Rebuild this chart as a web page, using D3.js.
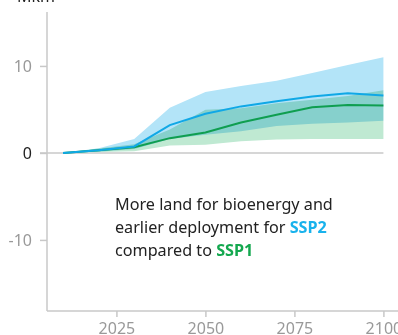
<!DOCTYPE html>
<html><head><meta charset="utf-8">
<script src="https://cdn.jsdelivr.net/npm/d3@7"></script>
<style>
html,body{margin:0;padding:0;background:#fff;}
svg{display:block;}
text{font-family:"Noto Sans","Open Sans",sans-serif;}
</style></head>
<body>
<svg id="chart" width="398" height="335"></svg>
<script>
const years = [2010, 2020, 2030, 2040, 2050, 2060, 2070, 2080, 2090, 2100];
const ssp2Median = [0, 0.3, 0.75, 3.2, 4.5, 5.35, 5.95, 6.5, 6.85, 6.6];
const ssp2Low    = [0, 0.15, 0.45, 1.6, 2.1, 2.5, 3.1, 3.35, 3.5, 3.7];
const ssp2High   = [0, 0.55, 1.6, 5.2, 7.0, 7.7, 8.3, 9.2, 10.1, 11.0];
const ssp1Median = [0, 0.3, 0.65, 1.7, 2.35, 3.5, 4.4, 5.25, 5.5, 5.45];
const ssp1Low    = [0, 0.1, 0.2, 0.85, 0.95, 1.35, 1.55, 1.6, 1.6, 1.6];
const ssp1High   = [0, 0.5, 1.0, 2.7, 4.95, 5.15, 5.7, 6.1, 6.55, 7.2];
const xTicks = [2025, 2050, 2075, 2100];
const yTicks = [-10, 0, 10];
const unitLabel = "Mkm²";

const svg = d3.select("#chart");
const x = d3.scaleLinear().domain([2005.5, 2104.1]).range([47, 398]);
const y = d3.scaleLinear().domain([-18.17, 16.2]).range([311, 12]);

const rows = years.map((yr, i) => ({yr, m2: ssp2Median[i], l2: ssp2Low[i], h2: ssp2High[i],
  m1: ssp1Median[i], l1: ssp1Low[i], h1: ssp1High[i]}));

// zero gridline
svg.append("line").attr("x1", 40).attr("x2", x(2100)).attr("y1", y(0)).attr("y2", y(0))
  .attr("stroke", "#c8c8c8").attr("stroke-width", 1.5);

const bands = svg.append("g").style("isolation", "isolate");
bands.append("path").datum(rows)
  .attr("d", d3.area().x(d => x(d.yr)).y0(d => y(d.l2)).y1(d => y(d.h2)))
  .attr("fill", "#b3e4f8").style("mix-blend-mode", "multiply");
bands.append("path").datum(rows)
  .attr("d", d3.area().x(d => x(d.yr)).y0(d => y(d.l1)).y1(d => y(d.h1)))
  .attr("fill", "#bfe9d2").style("mix-blend-mode", "multiply");

svg.append("path").datum(rows)
  .attr("d", d3.line().x(d => x(d.yr)).y(d => y(d.m1)))
  .attr("fill", "none").attr("stroke", "#0f9e50").attr("stroke-width", 2);
svg.append("path").datum(rows)
  .attr("d", d3.line().x(d => x(d.yr)).y(d => y(d.m2)))
  .attr("fill", "none").attr("stroke", "#10a8e6").attr("stroke-width", 2);

// y axis
const yAxis = svg.append("g").attr("transform", "translate(47,0)")
  .call(d3.axisLeft(y).tickValues(yTicks).tickSize(7).tickPadding(8).tickFormat(d3.format("d")));
yAxis.select(".domain").attr("stroke", "#c8c8c8").attr("stroke-width", 1.5)
  .attr("d", `M0,${y(16.2)}V${y(-18.17)}`);
yAxis.selectAll(".tick line").attr("stroke", "#c8c8c8").attr("stroke-width", 1.5);
yAxis.selectAll(".tick text").attr("font-size", 16).attr("font-family", null)
  .attr("fill", d => d === 0 ? "#222" : "#999")
  .text(d => d < 0 ? "-" + Math.abs(d) : d);

// x axis
const xAxis = svg.append("g").attr("transform", `translate(0,${y(-18.17)})`)
  .call(d3.axisBottom(x).tickValues(xTicks).tickSize(6).tickPadding(6).tickFormat(d3.format("d")));
xAxis.select(".domain").attr("stroke", "#c8c8c8").attr("stroke-width", 1.5)
  .attr("d", "M47,0H398");
xAxis.selectAll(".tick line").attr("stroke", "#c8c8c8").attr("stroke-width", 1.5);
xAxis.selectAll(".tick text").attr("font-size", 16).attr("font-family", null).attr("fill", "#999");

svg.append("text").attr("x", 17).attr("y", 2).attr("font-size", 16).attr("fill", "#222").text(unitLabel);

// annotation
const ann = svg.append("text").attr("x", 115).attr("y", 210).attr("font-size", 16).attr("fill", "#222");
const l1 = ann.append("tspan").attr("x", 115).attr("y", 210).text("More land for bioenergy and");
const l2 = ann.append("tspan").attr("x", 115).attr("y", 233);
l2.append("tspan").text("earlier deployment for ");
l2.append("tspan").attr("font-weight", "bold").attr("fill", "#19b2ec").text("SSP2");
const l3 = ann.append("tspan").attr("x", 115).attr("y", 256);
l3.append("tspan").text("compared to ");
l3.append("tspan").attr("font-weight", "bold").attr("fill", "#14a84f").text("SSP1");
// fit first line to reference width
const w = l1.node().getComputedTextLength();
ann.attr("font-size", 16 * 218 / w);
</script>
</body></html>
